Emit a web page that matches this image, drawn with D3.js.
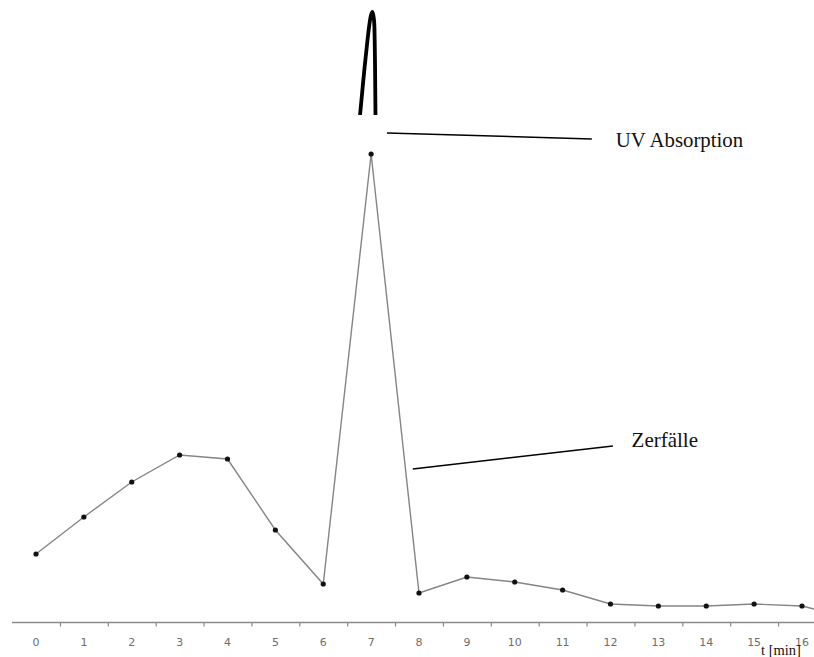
<!DOCTYPE html>
<html><head><meta charset="utf-8">
<script src="https://cdn.jsdelivr.net/npm/d3@7"></script>
<style>html,body{margin:0;padding:0;background:#fff;}svg{display:block;}</style>
</head><body>
<script>
// Data (time in minutes, values in arbitrary units)
const times = [0,1,2,3,4,5,6,7,8,9,10,11,12,13,14,15,16];
const zerfaelle = [68,105,140,167,163,92,38,468,29,45,40,32,18,16,16,18,16];
const tail = [{t:16.25, v:13}];
const uvT = [6.71,6.768,6.88,6.998,7.029,7.06,7.075,7.085,7.091,7.098];
const uvV = [482,507,562,607,610,602,580,540,507,482];
const tickLabels = ["0","1","2","3","4","5","6","7","8","9","10","11","12","13","14","15","16"];
const minorTicks = [0.5,1.5,2.5,3.5,4.5,5.5,6.5,7.5,8.5,9.5,10.5,11.5,12.5,13.5,14.5,15.5];
const uvClipMin = 507;
const annotations = [
  {label:"UV Absorption", x1:7.33, v1:489, x2:11.61, v2:483, tx:12.11, tv:475},
  {label:"Zerfälle", x1:7.87, v1:153, x2:12.05, v2:176, tx:12.44, tv:175}
];

const W=814,H=657;
const svg=d3.select("body").append("svg").attr("width",W).attr("height",H);
const x=d3.scaleLinear().domain([0,16]).range([36,802]);
const y=d3.scaleLinear().domain([0,610]).range([622,12]);

// axis line
svg.append("line").attr("x1",12).attr("x2",W).attr("y1",y(0)+0.5).attr("y2",y(0)+0.5)
  .attr("stroke","#8a8a8a").attr("stroke-width",1.6);
const axis=d3.axisBottom(x).tickValues(minorTicks).tickSize(4).tickFormat("");
const ag=svg.append("g").attr("transform",`translate(0,${y(0)+0.5})`).call(axis);
ag.select(".domain").remove();
ag.selectAll(".tick line").attr("stroke","#8a8a8a").attr("stroke-width",1.2);

// tick labels
svg.append("g").selectAll("text").data(times).join("text")
  .attr("x",d=>x(d)).attr("y",646).attr("text-anchor","middle")
  .attr("font-family","DejaVu Sans, sans-serif").attr("font-size",11)
  .attr("fill","#6e6e6e").text((d,i)=>tickLabels[i]);

// Zerfälle line
const pts=times.map((t,i)=>({t,v:zerfaelle[i]})).concat(tail);
const line=d3.line().x(d=>x(d.t)).y(d=>y(d.v));
svg.append("path").datum(pts).attr("d",line).attr("fill","none")
  .attr("stroke","#858585").attr("stroke-width",1.4);
svg.append("g").selectAll("circle").data(times).join("circle")
  .attr("cx",d=>x(d)).attr("cy",(d,i)=>y(zerfaelle[i])).attr("r",2.6).attr("fill","#111");

// UV absorption (clipped)
svg.append("clipPath").attr("id","uvclip").append("rect")
  .attr("x",0).attr("y",0).attr("width",W).attr("height",y(uvClipMin));
const uvPts=uvT.map((t,i)=>({t,v:uvV[i]}));
svg.append("path").datum(uvPts).attr("d",d3.line().x(d=>x(d.t)).y(d=>y(d.v)).curve(d3.curveCatmullRom))
  .attr("fill","none").attr("stroke","#000").attr("stroke-width",3.8)
  .attr("stroke-linejoin","round").attr("clip-path","url(#uvclip)");

// annotations
annotations.forEach(a=>{
  svg.append("line").attr("x1",x(a.x1)).attr("y1",y(a.v1)).attr("x2",x(a.x2)).attr("y2",y(a.v2))
    .attr("stroke","#000").attr("stroke-width",1.5);
  svg.append("text").attr("x",x(a.tx)).attr("y",y(a.tv))
    .attr("font-family","Liberation Serif, Times New Roman, serif").attr("font-size",a.label==="Zerfälle"?21:20.8)
    .attr("fill","#111").text(a.label);
});

// axis title
svg.append("text").attr("x",761).attr("y",655)
  .attr("font-family","Liberation Serif, Times New Roman, serif").attr("font-size",14.5)
  .attr("fill","#111").text("t [min]");
</script>
</body></html>
